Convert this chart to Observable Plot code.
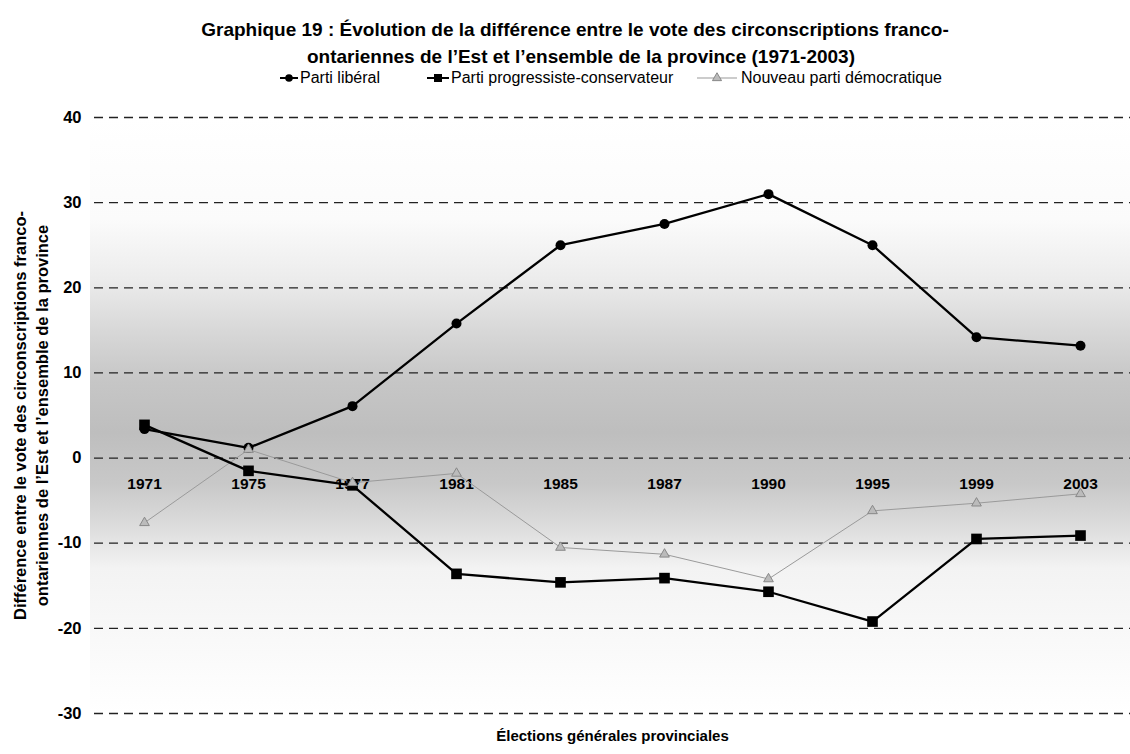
<!DOCTYPE html>
<html>
<head>
<meta charset="utf-8">
<script src="https://cdn.jsdelivr.net/npm/d3@7"></script>
<script src="https://cdn.jsdelivr.net/npm/@observablehq/plot@0.6"></script>
<style>
  body { margin: 0; background: #fff; font-family: "Liberation Sans", Arial, sans-serif; }
  svg { display: block; }
</style>
</head>
<body>
<script>
// ---- Data ----
const years = ["1971", "1975", "1977", "1981", "1985", "1987", "1990", "1995", "1999", "2003"];
const liberal = [3.4, 1.2, 6.1, 15.8, 25.0, 27.5, 31.0, 25.0, 14.2, 13.2];
const pc = [3.9, -1.5, -3.2, -13.6, -14.6, -14.1, -15.7, -19.2, -9.5, -9.1];
const npd = [-7.6, 1.0, -2.9, -1.8, -10.5, -11.3, -14.2, -6.2, -5.3, -4.2];
const yTicks = [-30, -20, -10, 0, 10, 20, 30, 40];
const seriesNames = ["Parti libéral", "Parti progressiste-conservateur", "Nouveau parti démocratique"];
const title1 = "Graphique 19 : Évolution de la différence entre le vote des circonscriptions franco-";
const title2 = "ontariennes de l’Est et l’ensemble de la province (1971-2003)";
const yTitle1 = "Différence entre le vote des circonscriptions franco-";
const yTitle2 = "ontariennes de l’Est et l’ensemble de la province";
const xTitle = "Élections générales provinciales";
// background shading bands (value -> grey)
const bgStops = [
  {v: 40, c: "#ffffff"}, {v: 28, c: "#fbfbfb"}, {v: 21, c: "#ececec"},
  {v: 15, c: "#d8d8d8"}, {v: 9, c: "#c6c6c6"}, {v: 3, c: "#bebebe"},
  {v: -3, c: "#c8c8c8"}, {v: -8, c: "#dcdcdc"}, {v: -13, c: "#f3f3f3"}, {v: -30, c: "#ffffff"}
];

const mk = (vals) => years.map((y, i) => ({year: y, value: vals[i]}));
const libData = mk(liberal), pcData = mk(pc), npdData = mk(npd);

const FONT = "'Liberation Sans', Arial, sans-serif";

// ---- Header (title + legend) ----
const head = d3.select(document.body).append("svg")
  .attr("width", 1130).attr("height", 95)
  .style("font-family", FONT);
head.append("text").attr("x", 575).attr("y", 36).attr("text-anchor", "middle")
  .attr("font-weight", "bold").attr("font-size", 19).text(title1);
head.append("text").attr("x", 581).attr("y", 63).attr("text-anchor", "middle")
  .attr("font-weight", "bold").attr("font-size", 19).text(title2);

const leg = head.append("g");
const legY = 83;
function legSym(x0, x1, type) {
  const cy = legY - 5;
  const cx = (x0 + x1) / 2;
  if (type === "npd") {
    leg.append("line").attr("x1", x0).attr("x2", x1).attr("y1", cy).attr("y2", cy)
      .attr("stroke", "#999").attr("stroke-width", 1);
    leg.append("path").attr("d", d3.symbol(d3.symbolTriangle, 36)())
      .attr("transform", `translate(${cx},${cy})`).attr("fill", "#bbb").attr("stroke", "#888");
  } else {
    leg.append("line").attr("x1", x0).attr("x2", x1).attr("y1", cy).attr("y2", cy)
      .attr("stroke", "#000").attr("stroke-width", 2);
    if (type === "lib") leg.append("circle").attr("cx", cx).attr("cy", cy).attr("r", 3.8);
    else leg.append("rect").attr("x", cx - 4).attr("y", cy - 4).attr("width", 8).attr("height", 8);
  }
}
legSym(280, 298, "lib");
leg.append("text").attr("x", 300).attr("y", legY).attr("font-size", 16).text(seriesNames[0]);
legSym(427, 449, "pc");
leg.append("text").attr("x", 451).attr("y", legY).attr("font-size", 16).text(seriesNames[1]);
legSym(697, 737, "npd");
leg.append("text").attr("x", 741).attr("y", legY).attr("font-size", 16).text(seriesNames[2]);

// ---- Background gradient mark (uses the y scale) ----
function background(index, scales, values, dimensions) {
  const {width, marginLeft, marginRight} = dimensions;
  const y = scales.y;
  const top = y(40), bot = y(-30);
  const g = d3.create("svg:g");
  const lg = g.append("defs").append("linearGradient").attr("id", "bgGrad")
    .attr("gradientUnits", "userSpaceOnUse")
    .attr("x1", 0).attr("x2", 0).attr("y1", top).attr("y2", bot);
  for (const s of bgStops) {
    lg.append("stop").attr("offset", (y(s.v) - top) / (bot - top)).attr("stop-color", s.c);
  }
  g.append("rect").attr("x", marginLeft - 4).attr("y", top)
    .attr("width", width - marginLeft - marginRight + 4).attr("height", bot - top)
    .attr("fill", "url(#bgGrad)");
  return g.node();
}

// ---- Chart ----
const chart = Plot.plot({
  width: 1130,
  height: 659,
  marginLeft: 94,
  marginRight: 0,
  marginTop: 22,
  marginBottom: 41,
  style: {fontFamily: FONT, color: "#000", background: "#fff", overflow: "hidden"},
  x: {type: "point", domain: years, padding: 0.47, axis: null},
  y: {domain: [-30, 40], axis: null},
  marks: [
    background,
    Plot.ruleY(yTicks, {stroke: "#222", strokeWidth: 1.3, strokeDasharray: "9,6"}),
    Plot.axisY(yTicks, {tickSize: 0, tickPadding: 13, fontSize: 16.5, fontWeight: "bold", label: null, tickFormat: d => String(d)}),
    Plot.text(years, {x: d => d, y: () => 0, text: d => d, dy: 26, fontSize: 15.5, fontWeight: "bold", fill: "#000"}),
    Plot.line(npdData, {x: "year", y: "value", stroke: "#9a9a9a", strokeWidth: 1}),
    Plot.line(libData, {x: "year", y: "value", stroke: "#000", strokeWidth: 2.3}),
    Plot.dot(libData, {x: "year", y: "value", symbol: "circle", r: 5, fill: "#000"}),
    Plot.line(pcData, {x: "year", y: "value", stroke: "#000", strokeWidth: 2.3}),
    Plot.dot(pcData, {x: "year", y: "value", symbol: "square", r: 6, fill: "#000"}),
    Plot.dot(npdData, {x: "year", y: "value", symbol: "triangle", r: 3.6, fill: "#bbb", stroke: "#888", strokeWidth: 1}),
    Plot.text([xTitle], {text: d => d, frameAnchor: "bottom", dy: 27, fontWeight: "bold", fontSize: 15}),
    Plot.text([yTitle1], {text: d => d, frameAnchor: "left", textAnchor: "middle", lineAnchor: "middle", dx: -74, rotate: -90, fontWeight: "bold", fontSize: 16.5}),
    Plot.text([yTitle2], {text: d => d, frameAnchor: "left", textAnchor: "middle", lineAnchor: "middle", dx: -52, rotate: -90, fontWeight: "bold", fontSize: 16.5})
  ]
});
document.body.appendChild(chart);
</script>
</body>
</html>
